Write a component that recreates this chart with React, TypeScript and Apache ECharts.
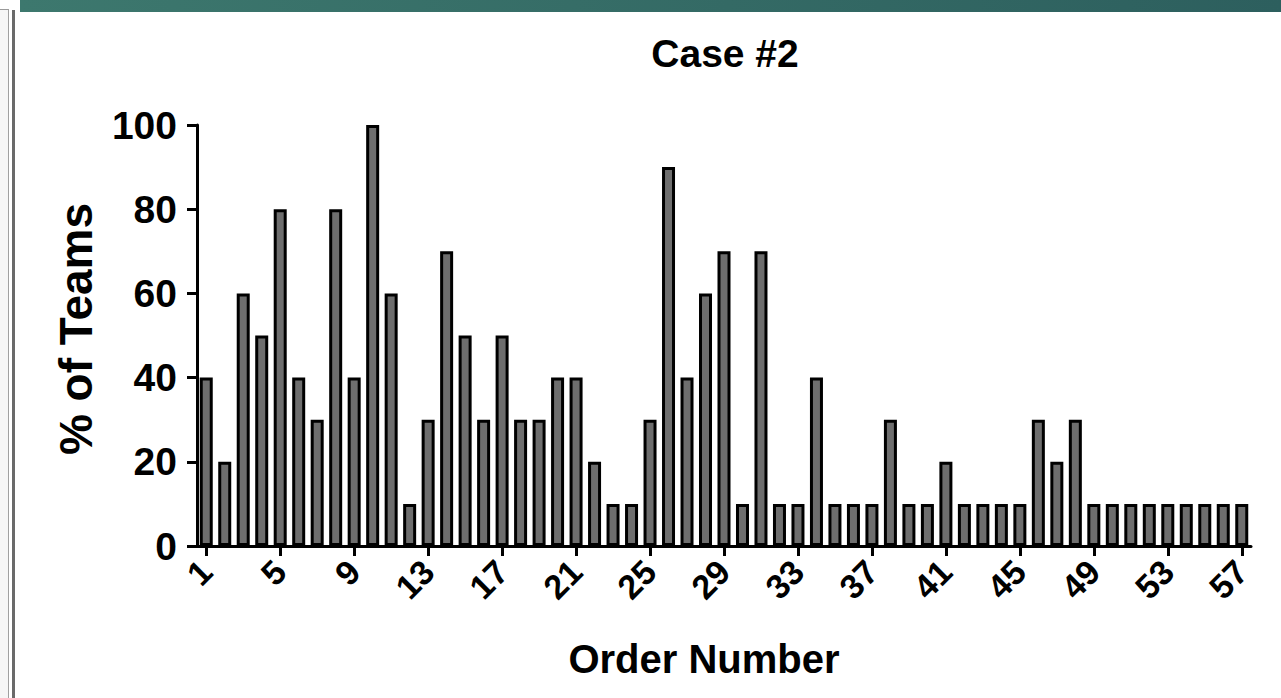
import React, { useEffect, useRef } from "react";
import * as echarts from "echarts";

const categories = [
  "1","2","3","4","5","6","7","8","9","10","11","12","13","14","15","16","17","18","19","20",
  "21","22","23","24","25","26","27","28","29","30","31","32","33","34","35","36","37","38","39","40",
  "41","42","43","44","45","46","47","48","49","50","51","52","53","54","55","56","57",
];
const percentTeams = [
  40, 20, 60, 50, 80, 40, 30, 80, 40, 100,
  60, 10, 30, 70, 50, 30, 50, 30, 30, 40,
  40, 20, 10, 10, 30, 90, 40, 60, 70, 10,
  70, 10, 10, 40, 10, 10, 10, 30, 10, 10,
  20, 10, 10, 10, 10, 30, 20, 30, 10, 10,
  10, 10, 10, 10, 10, 10, 10,
];
const yTicks = { min: 0, max: 100, interval: 20 };
const titleText = "Case #2";
const xName = "Order Number";
const yName = "% of Teams";

const FONT = '"Liberation Sans", Arial, Helvetica, sans-serif';

export default function App() {
  const ref = useRef<HTMLDivElement>(null);
  useEffect(() => {
    document.body.style.margin = "0";
    const chart = echarts.init(ref.current!, null, { renderer: "svg" });
    chart.setOption({
      animation: false,
      backgroundColor: "#ffffff",
      grid: { left: 197, right: 30, top: 125, bottom: 152, containLabel: false },
      xAxis: {
        type: "category",
        data: categories,
        boundaryGap: true,
        axisLine: { show: true, lineStyle: { color: "#000", width: 3 } },
        axisTick: {
          show: true,
          alignWithLabel: true,
          interval: 3,
          length: 10,
          lineStyle: { color: "#000", width: 3 },
        },
        axisLabel: {
          interval: 3,
          rotate: 45,
          margin: 20,
          color: "#000",
          fontSize: 34,
          fontWeight: "bold",
          fontFamily: FONT,
        },
        splitLine: { show: false },
      },
      yAxis: {
        type: "value",
        min: yTicks.min,
        max: yTicks.max,
        interval: yTicks.interval,
        axisLine: { show: true, lineStyle: { color: "#000", width: 3 } },
        axisTick: { show: true, length: 10, lineStyle: { color: "#000", width: 3 } },
        axisLabel: {
          margin: 20,
          color: "#000",
          fontSize: 39,
          fontWeight: "bold",
          fontFamily: FONT,
        },
        splitLine: { show: false },
      },
      series: [
        {
          type: "bar",
          data: percentTeams,
          barWidth: 13,
          itemStyle: { color: "#6e6e6e", borderColor: "#000", borderWidth: 3 },
        },
      ],
      graphic: [
        {
          type: "rect",
          shape: { x: 20, y: 0, width: 1261, height: 12 },
          style: {
            fill: new echarts.graphic.LinearGradient(0, 0, 1, 0, [
              { offset: 0, color: "#3d786e" },
              { offset: 1, color: "#2d5f5e" },
            ]),
          },
          silent: true,
        },
        {
          type: "rect",
          shape: { x: 0, y: 10, width: 8, height: 688 },
          style: { fill: "#f6f6f6" },
          silent: true,
        },
        {
          type: "line",
          shape: { x1: 0, y1: 9.5, x2: 9, y2: 9.5 },
          style: { stroke: "#9a9a9a", lineWidth: 1 },
          silent: true,
        },
        {
          type: "line",
          shape: { x1: 8.5, y1: 9.5, x2: 8.5, y2: 698 },
          style: { stroke: "#a0a0a0", lineWidth: 1 },
          silent: true,
        },
        {
          type: "rect",
          shape: { x: 12, y: 10, width: 3, height: 688 },
          style: { fill: "#6a6a6a" },
          silent: true,
        },
        {
          type: "text",
          x: 725,
          y: 53,
          style: {
            text: titleText,
            fill: "#000",
            font: `bold 39px ${FONT}`,
            textAlign: "center",
            textVerticalAlign: "middle",
          },
        },
        {
          type: "text",
          x: 704,
          y: 659,
          style: {
            text: xName,
            fill: "#000",
            font: `bold 40px ${FONT}`,
            textAlign: "center",
            textVerticalAlign: "middle",
          },
        },
        {
          type: "text",
          x: 76,
          y: 329,
          rotation: Math.PI / 2,
          style: {
            text: yName,
            fill: "#000",
            font: `bold 46px ${FONT}`,
            textAlign: "center",
            textVerticalAlign: "middle",
          },
        },
      ],
    });
    return () => chart.dispose();
  }, []);
  return (
    <div
      ref={ref}
      style={{ position: "absolute", left: 0, top: 0, width: 1281, height: 698, background: "#fff" }}
    />
  );
}
